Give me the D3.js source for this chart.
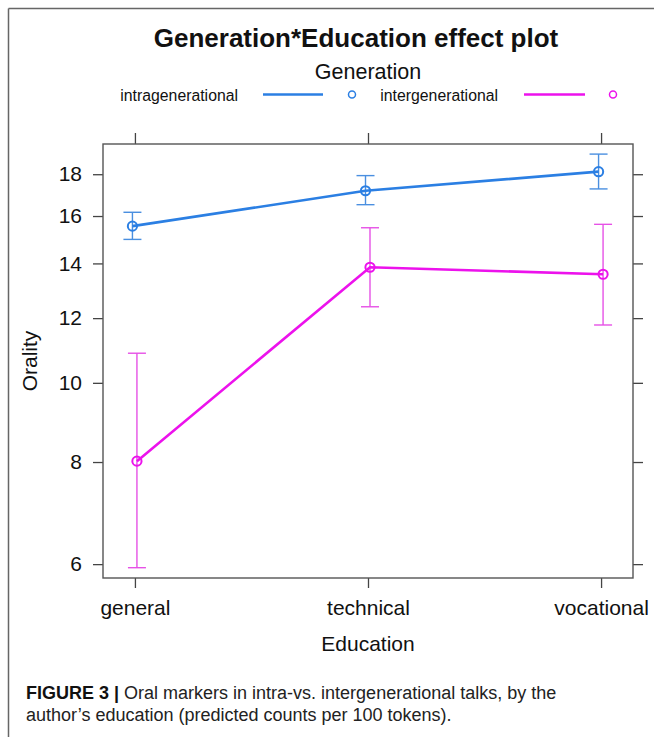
<!DOCTYPE html>
<html>
<head>
<meta charset="utf-8">
<script src="https://cdn.jsdelivr.net/npm/d3@7"></script>
<style>
  html, body { margin: 0; padding: 0; background: #fff; }
  svg { display: block; font-family: "Liberation Sans", Arial, Helvetica, sans-serif; }
</style>
</head>
<body>
<svg id="chart" width="654" height="737"></svg>
<script>
// ---- data ----
const categories = ["general", "technical", "vocational"];
const seriesNames = ["intragenerational", "intergenerational"];
const intraFit   = [15.55, 17.18, 18.13];
const intraLower = [14.98, 16.52, 17.27];
const intraUpper = [16.17, 17.93, 19.05];
const interFit   = [8.02, 13.85, 13.58];
const interLower = [5.94, 12.39, 11.77];
const interUpper = [10.87, 15.48, 15.63];
const yTicks = [6, 8, 10, 12, 14, 16, 18];
const yDomain = [5.77, 19.6];

const colors = ["#2b7fe3", "#ec12ec"];
const barColors = ["#4a8fe0", "#e651e6"];
const offsets = [-2.5, 2];

const series = [
  { name: seriesNames[0], fit: intraFit, lower: intraLower, upper: intraUpper },
  { name: seriesNames[1], fit: interFit, lower: interLower, upper: interUpper }
];

const svg = d3.select("#chart");

// outer frame (top + left)
svg.append("line").attr("x1", 8.5).attr("x2", 654).attr("y1", 8.5).attr("y2", 8.5)
  .attr("stroke", "#666").attr("stroke-width", 1.5);
svg.append("line").attr("x1", 8.5).attr("x2", 8.5).attr("y1", 8.5).attr("y2", 737)
  .attr("stroke", "#666").attr("stroke-width", 1.5);

const L = 103, R = 633, T = 144, B = 578;

const x = d3.scalePoint().domain(categories).range([L, R]).padding(0.137);
const y = d3.scaleLog().domain(yDomain).range([B, T]);

// title
svg.append("text").attr("x", 356).attr("y", 47).attr("text-anchor", "middle")
  .attr("font-size", 26).attr("font-weight", "bold").attr("fill", "#111")
  .text("Generation*Education effect plot");

// legend
svg.append("text").attr("x", 368).attr("y", 79).attr("text-anchor", "middle")
  .attr("font-size", 21.5).attr("fill", "#111").text("Generation");

const legendItems = [
  { textEnd: 238, lineX1: 263, lineX2: 323, circX: 352 },
  { textEnd: 498, lineX1: 524, lineX2: 585, circX: 613 }
];
legendItems.forEach((it, i) => {
  svg.append("text").attr("x", it.textEnd).attr("y", 100.5).attr("text-anchor", "end")
    .attr("font-size", 15.8).attr("fill", "#111").text(seriesNames[i]);
  svg.append("line").attr("x1", it.lineX1).attr("x2", it.lineX2).attr("y1", 94.5).attr("y2", 94.5)
    .attr("stroke", colors[i]).attr("stroke-width", 2.5);
  svg.append("circle").attr("cx", it.circX).attr("cy", 94.5).attr("r", 3.5)
    .attr("fill", "none").attr("stroke", colors[i]).attr("stroke-width", 1.5);
});

// axes
const axisColor = "#444";
const gLeft = svg.append("g").attr("transform", `translate(${L},0)`)
  .call(d3.axisLeft(y).tickValues(yTicks).tickFormat(d3.format("d")).tickSize(10).tickSizeOuter(0).tickPadding(11));
const gRight = svg.append("g").attr("transform", `translate(${R},0)`)
  .call(d3.axisRight(y).tickValues(yTicks).tickFormat("").tickSize(10).tickSizeOuter(0));
const gBottom = svg.append("g").attr("transform", `translate(0,${B})`)
  .call(d3.axisBottom(x).tickSize(10).tickSizeOuter(0).tickPadding(12));
const gTop = svg.append("g").attr("transform", `translate(0,${T})`)
  .call(d3.axisTop(x).tickFormat("").tickSize(11).tickSizeOuter(0));
[gLeft, gRight, gBottom, gTop].forEach(g => {
  g.select(".domain").remove();
  g.selectAll(".tick line").attr("stroke", axisColor).attr("stroke-width", 1.3);
  g.selectAll(".tick text").attr("font-size", 21).attr("fill", "#111")
    .attr("font-family", "'Liberation Sans', Arial, Helvetica, sans-serif");
});

// plot box
svg.append("rect").attr("x", L).attr("y", T).attr("width", R - L).attr("height", B - T)
  .attr("fill", "none").attr("stroke", "#555").attr("stroke-width", 1.4);

// axis labels
svg.append("text").attr("transform", `translate(37,361) rotate(-90)`).attr("text-anchor", "middle")
  .attr("font-size", 21).attr("fill", "#111").text("Orality");
svg.append("text").attr("x", 368).attr("y", 651).attr("text-anchor", "middle")
  .attr("font-size", 21).attr("fill", "#111").text("Education");

// series
const line = d3.line().x(d => d.x).y(d => d.y);
series.forEach((s, i) => {
  const pts = categories.map((c, j) => ({
    x: x(c) + offsets[i], y: y(s.fit[j]), lo: y(s.lower[j]), hi: y(s.upper[j])
  }));
  const g = svg.append("g");
  // error bars
  pts.forEach(p => {
    g.append("line").attr("x1", p.x).attr("x2", p.x).attr("y1", p.lo).attr("y2", p.hi)
      .attr("stroke", barColors[i]).attr("stroke-width", 1.4);
    [p.lo, p.hi].forEach(yy => {
      g.append("line").attr("x1", p.x - 9).attr("x2", p.x + 9).attr("y1", yy).attr("y2", yy)
        .attr("stroke", barColors[i]).attr("stroke-width", 1.4);
    });
  });
  g.append("path").attr("d", line(pts)).attr("fill", "none")
    .attr("stroke", colors[i]).attr("stroke-width", 2.6);
  pts.forEach(p => {
    g.append("circle").attr("cx", p.x).attr("cy", p.y).attr("r", 4.6)
      .attr("fill", "none").attr("stroke", colors[i]).attr("stroke-width", 2);
  });
});

// caption
const cap1 = svg.append("text").attr("x", 26).attr("y", 699).attr("font-size", 18).attr("fill", "#222");
cap1.append("tspan").attr("font-weight", "bold").attr("fill", "#111").text("FIGURE 3 | ");
cap1.append("tspan").text("Oral markers in intra-vs. intergenerational talks, by the");
svg.append("text").attr("x", 26).attr("y", 721).attr("font-size", 18).attr("fill", "#222")
  .text("author\u2019s education (predicted counts per 100 tokens).");
</script>
</body>
</html>
